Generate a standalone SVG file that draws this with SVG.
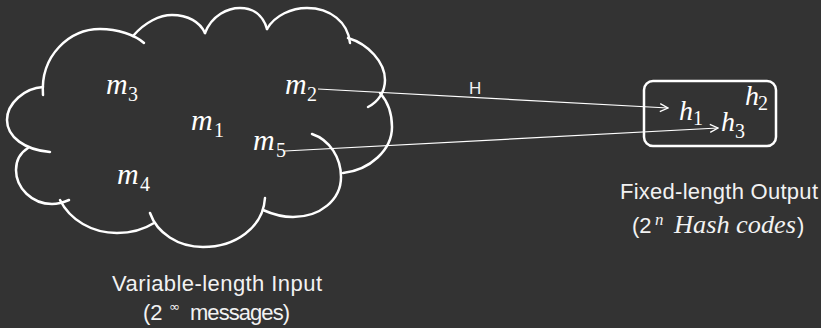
<svg xmlns="http://www.w3.org/2000/svg" width="821" height="328" viewBox="0 0 821 328">
<style>
.bg{fill:#333333}
.sh{fill:none;stroke:#ffffff;stroke-width:2.5;stroke-linecap:round}
.ln{fill:none;stroke:#ffffff;stroke-width:1.2}
.mv{font-family:"Liberation Serif",serif;font-style:italic;font-size:30px;fill:#ffffff}
.sb{font-family:"Liberation Serif",serif;font-size:20px;fill:#ffffff}
.lb{font-family:"Liberation Sans",sans-serif;font-size:22px;fill:#f2f2f2}
.it{font-family:"Liberation Serif",serif;font-style:italic;font-size:26px;fill:#f2f2f2}
.sup{font-family:"Liberation Serif",serif;font-style:italic;font-size:17px;fill:#f2f2f2}
.hl{font-family:"Liberation Sans",sans-serif;font-size:17px;fill:#f2f2f2}
.inf{font-family:"DejaVu Sans",sans-serif;font-size:13px;fill:#f2f2f2}
</style>
<defs>
<marker id="ah" viewBox="0 0 10 10" refX="9" refY="5" markerWidth="10" markerHeight="10" markerUnits="userSpaceOnUse" orient="auto">
<path d="M1,1 L9,5 L1,9" fill="none" stroke="#ffffff" stroke-width="1.3"/>
</marker>
</defs>
<rect class="bg" x="0" y="0" width="821" height="328"/>
<g id="input-cloud">
<path class="sh" d="M43,95 C40,55 70,29 100,29 C118,29 135,35 144,43"/>
<path class="sh" d="M133,36 C145,22 160,15 172,15 C188,15 200,22 205,33"/>
<path class="sh" d="M205,33 C212,15 228,8 240,8 C253,8 263,15 267,29"/>
<path class="sh" d="M267,29 C275,15 292,8 307,8 C330,8 348,22 350,43"/>
<path class="sh" d="M348,38 C368,44 385,62 385,80 C385,92 378,102 368,107"/>
<path class="sh" d="M380,93 C388,102 392,114 392,127 C392,150 370,170 343,173"/>
<path class="sh" d="M312,134 C330,140 341,158 341,177 C341,200 320,217 293,217 C282,217 272,214 263,210"/>
<path class="sh" d="M265,198 C263,228 235,247 203,247 C178,247 157,233 150,213"/>
<path class="sh" d="M154,223 C143,230 130,233 117,233 C92,233 70,220 60,200"/>
<path class="sh" d="M69,200 C62,203 57,204 52,204 C32,204 16,188 16,170 C16,160 20,153 28,148"/>
<path class="sh" d="M50,152 C25,150 7,137 7,120 C7,103 25,88 43,87"/>
</g>
<g id="m3"><text class="mv" x="106" y="94">m</text><text class="sb" x="128" y="101">3</text></g>
<g id="m1"><text class="mv" x="191" y="130">m</text><text class="sb" x="214" y="137">1</text></g>
<g id="m2"><text class="mv" x="285" y="94">m</text><text class="sb" x="307" y="101">2</text></g>
<g id="m5"><text class="mv" x="253" y="150">m</text><text class="sb" x="276" y="157">5</text></g>
<g id="m4"><text class="mv" x="117" y="184">m</text><text class="sb" x="140" y="191">4</text></g>
<g id="output-box">
<rect class="sh" x="644" y="81" width="132" height="65" rx="9"/>
<g id="h1"><text class="mv" x="679" y="120" style="font-size:28px">h</text><text class="sb" x="693" y="125">1</text></g>
<g id="h2"><text class="mv" x="745" y="105" style="font-size:28px">h</text><text class="sb" x="758" y="110">2</text></g>
<g id="h3"><text class="mv" x="721" y="131" style="font-size:28px">h</text><text class="sb" x="735" y="138">3</text></g>
</g>
<g id="connectors">
<line class="ln" x1="318" y1="89" x2="668" y2="108" marker-end="url(#ah)"/>
<line class="ln" x1="285" y1="151" x2="718" y2="128" marker-end="url(#ah)"/>
<text class="hl" x="469" y="94">H</text>
</g>
<g id="labels">
<text class="lb" x="620" y="199" textLength="198">Fixed-length Output</text>
<text class="lb" x="632" y="233">(2</text>
<text class="sup" x="655" y="225">n</text>
<text class="it" x="674" y="233" textLength="122" lengthAdjust="spacingAndGlyphs">Hash codes</text>
<text class="lb" x="797" y="233">)</text>
<text class="lb" x="112" y="291" textLength="210">Variable-length Input</text>
<text class="lb" x="143" y="320">(2</text>
<text class="inf" x="169" y="311">∞</text>
<text class="lb" x="190" y="320" textLength="100">messages)</text>
</g>
</svg>
